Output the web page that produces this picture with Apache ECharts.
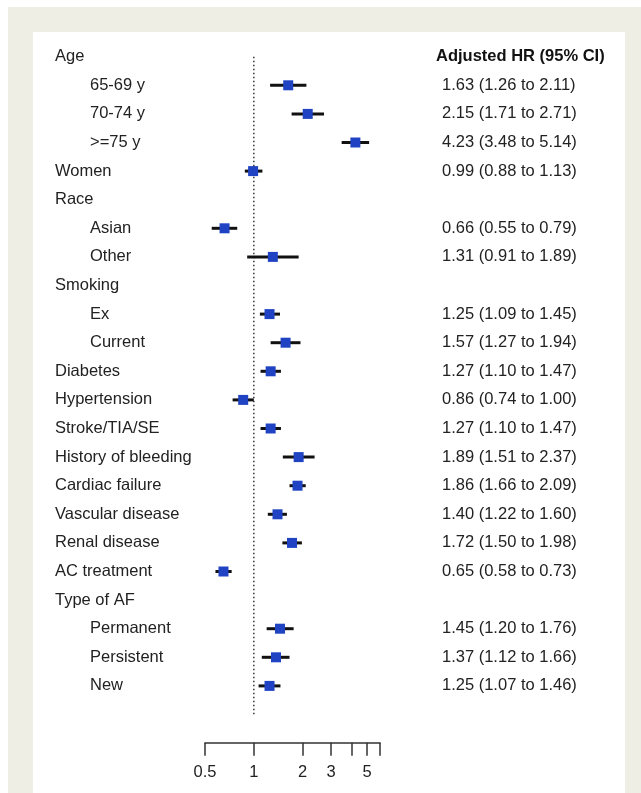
<!DOCTYPE html>
<html>
<head>
<meta charset="utf-8">
<script src="https://cdn.jsdelivr.net/npm/echarts@6/dist/echarts.min.js"></script>
<style>
  html, body { margin: 0; padding: 0; width: 641px; height: 793px; background: #ffffff; overflow: hidden; }
  #bg { position: absolute; left: 8px; top: 7px; right: 0; bottom: 0; background: #efeee5; }
  #chart { position: absolute; left: 33px; top: 32px; width: 592px; height: 761px; background: #ffffff; }
</style>
</head>
<body>
<div id="bg"></div>
<div id="chart"></div>
<script>
// ---- data ----
const labels = ['Age','65-69 y','70-74 y','>=75 y','Women','Race','Asian','Other','Smoking','Ex','Current','Diabetes','Hypertension','Stroke/TIA/SE','History of bleeding','Cardiac failure','Vascular disease','Renal disease','AC treatment','Type of AF','Permanent','Persistent','New'];
const isSub  = [0,1,1,1,0,0,1,1,0,1,1,0,0,0,0,0,0,0,0,0,1,1,1];
const hr = [null,1.63,2.15,4.23,0.99,null,0.66,1.31,null,1.25,1.57,1.27,0.86,1.27,1.89,1.86,1.40,1.72,0.65,null,1.45,1.37,1.25];
const lo = [null,1.26,1.71,3.48,0.88,null,0.55,0.91,null,1.09,1.27,1.10,0.74,1.10,1.51,1.66,1.22,1.50,0.58,null,1.20,1.12,1.07];
const hi = [null,2.11,2.71,5.14,1.13,null,0.79,1.89,null,1.45,1.94,1.47,1.00,1.47,2.37,2.09,1.60,1.98,0.73,null,1.76,1.66,1.46];
const header = 'Adjusted HR (95% CI)';
const tickValues = [0.5,1,2,3,4,5,6];
const tickLabels = [0.5,1,2,3,5];

// ---- build ----
const cats = labels.concat(['']);
const hrText = hr.map((v,i) => i === 0 ? header : (v == null ? '' : v.toFixed(2) + ' (' + lo[i].toFixed(2) + ' to ' + hi[i].toFixed(2) + ')'));
hrText.push('');
const ciData = [];
hr.forEach((v,i) => { if (v != null) ciData.push([lo[i], v, hi[i], i]); });

const FONT = "'Liberation Sans', Arial, Helvetica, sans-serif";
const FS = 16.5;
const chart = echarts.init(document.getElementById('chart'), null, {renderer: 'canvas'});
chart.setOption({
  animation: false,
  backgroundColor: '#ffffff',
  textStyle: { fontFamily: FONT },
  grid: { left: 172, width: 175, top: 10.4, height: 686.4 },
  xAxis: {
    type: 'log', logBase: 2, min: 0.5, max: 6, offset: 14,
    splitLine: { show: false },
    axisLine: { show: true, lineStyle: { color: '#333', width: 1.5 } },
    axisTick: { show: true, length: 13, lineStyle: { color: '#333', width: 1.5 }, customValues: tickValues },
    axisLabel: { customValues: tickLabels, margin: 21, fontSize: FS, color: '#222', fontFamily: FONT,
      formatter: v => String(+(+v).toFixed(2)) },
    minorTick: { show: false }
  },
  yAxis: [{
    type: 'category', data: cats, inverse: true, position: 'left',
    axisLine: { show: false }, axisTick: { show: false }, splitLine: { show: false },
    axisLabel: { align: 'left', margin: 150, fontSize: FS, color: '#222', fontFamily: FONT, interval: 0,
      formatter: (v, i) => v === '' ? '' : (isSub[i] ? '{s|' + v + '}' : '{h|' + v + '}'),
      rich: { h: { fontSize: FS, color: '#222', fontFamily: FONT }, s: { fontSize: FS, color: '#222', fontFamily: FONT, padding: [0,0,0,35] } } }
  }, {
    type: 'category', data: hrText, inverse: true, position: 'right',
    axisLine: { show: false }, axisTick: { show: false }, splitLine: { show: false },
    axisLabel: { align: 'left', margin: 56, fontSize: FS, color: '#222', fontFamily: FONT, interval: 0,
      formatter: (v, i) => v === '' ? '' : (i === 0 ? '{b|' + v + '}' : '{v|' + v + '}'),
      rich: { b: { fontSize: FS, fontWeight: 'bold', color: '#111', fontFamily: FONT }, v: { fontSize: FS, color: '#222', fontFamily: FONT, padding: [0,0,0,6] } } }
  }],
  series: [{
    type: 'line', yAxisIndex: 0, symbol: 'none', silent: true,
    data: [[1, 0], [1, labels.length]],
    lineStyle: { color: '#333', width: 1.5, type: [1.5, 2.5] }, z: 1
  }, {
    type: 'custom', yAxisIndex: 0, z: 5,
    encode: { x: [0,1,2], y: 3 },
    data: ciData,
    renderItem: function (params, api) {
      const y = api.value(3);
      const a = api.coord([api.value(0), y]);
      const b = api.coord([api.value(2), y]);
      const c = api.coord([api.value(1), y]);
      const s = 10;
      return { type: 'group', children: [
        { type: 'line', shape: { x1: a[0], y1: a[1], x2: b[0], y2: b[1] }, style: { stroke: '#111', lineWidth: 3 } },
        { type: 'rect', shape: { x: c[0] - s/2, y: c[1] - s/2, width: s, height: s }, style: { fill: '#1f43c2' } }
      ]};
    }
  }]
});
</script>
</body>
</html>
